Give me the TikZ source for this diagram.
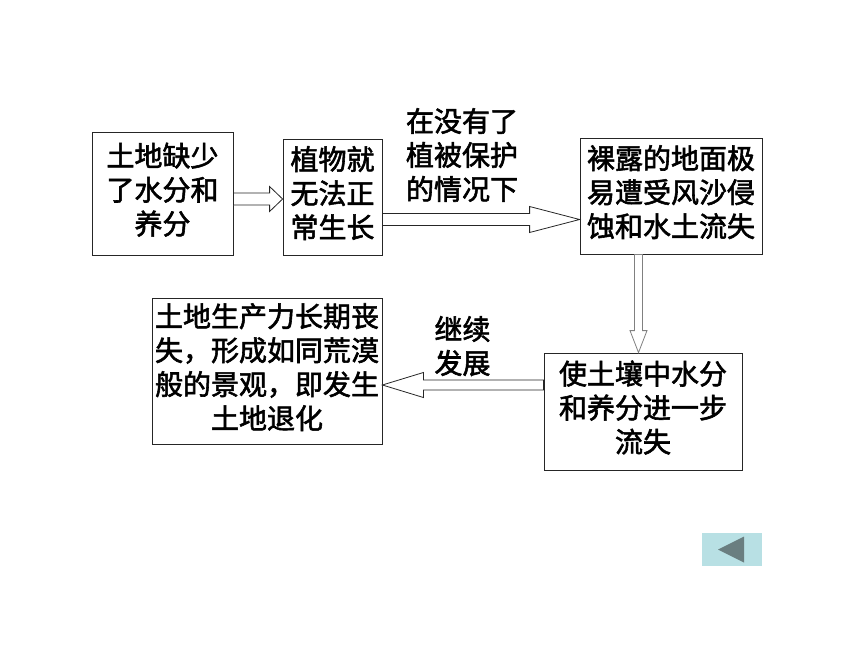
\documentclass[tikz,border=0pt]{standalone}
\usepackage{fontspec}
\setmainfont{Noto Sans CJK SC}[FakeBold=2]
\usetikzlibrary{calc}
\definecolor{btnfill}{HTML}{B8E0E4}
\definecolor{btnmark}{HTML}{6A7E80}
\newcommand{\lines}[2][2pt]{\raisebox{#1}{\begin{tabular}{@{}c@{}}#2\end{tabular}}}

\begin{document}
\begin{tikzpicture}[x=1pt,y=-1pt]

\tikzset{box/.style = {shape=rectangle,draw=black!85,line width=0.8pt,
  inner sep=0pt,font=\fontsize{28}{34}\selectfont}}
\tikzset{lbl/.style = {align=left,inner sep=0pt,font=\fontsize{28}{34}\selectfont}}
\tikzset{barrow/.style n args = {3}{draw=black!85,line width=0.8pt,fill=white,
  to path={let \p1=(\tikztostart), \p2=(\tikztotarget),
    \p3=($(\p2)!#3!(\p1)$) in
    ($(\p1)!#1!90:(\p2)$) -- ($(\p3)!#1!90:(\p2)$) -- ($(\p3)!#2!90:(\p2)$) -- (\p2)
    -- ($(\p3)!#2!-90:(\p2)$) -- ($(\p3)!#1!-90:(\p2)$) -- ($(\p1)!#1!-90:(\p2)$) -- cycle}}}

\useasboundingbox (0,0) rectangle (860,645);

\node[box,minimum width=141,minimum height=123] (lack) at (162.5,193.5) {\lines[9pt]{土地缺少\\了水分和\\养分}};
\node[box,minimum width=99,minimum height=116] (plant) at (332.5,197) {\lines{植物就\\无法正\\常生长}};
\node[box,minimum width=182,minimum height=116] (bare) at (671,196) {\lines{裸露的地面极\\易遭受风沙侵\\蚀和水土流失}};
\node[box,minimum width=198,minimum height=117] (loss) at (643,411.5) {\lines[3pt]{使土壤中水分\\和养分进一步\\流失}};
\node[box,minimum width=230,minimum height=146] (degr) at (267,371) {\lines{土地生产力长期丧\\失，形成如同荒漠\\般的景观，即发生\\土地退化}};

\node[lbl] (noveg) at (462,155) {在没有了\\植被保护\\的情况下};
\node[lbl] (cont) at (462.5,346) {继续\\发展};

%edges
\draw[barrow={6pt}{12.5pt}{13pt}] ([yshift=-5.5pt]lack.east) to ([yshift=-2pt]plant.west);
\draw[barrow={6pt}{13pt}{50pt}] ([yshift=-22.5pt]plant.east) to ([yshift=-23.5pt]bare.west);
\draw[barrow={4pt}{8.5pt}{22pt},draw=black!50] ([xshift=-32.5pt]bare.south) to ([xshift=-4.5pt]loss.north);
\draw[barrow={5pt}{12.5pt}{41pt}] ([yshift=26.5pt]loss.west) to ([yshift=-14pt]degr.east);

%back button
\node[fill=btnfill,minimum width=60,minimum height=33,inner sep=0pt] (back) at (732,549.5) {};
\fill[btnmark] ([xshift=-14pt]back.center) -- ([xshift=12pt,yshift=13pt]back.center)
  -- ([xshift=12pt,yshift=-13pt]back.center) -- cycle;
\end{tikzpicture}
\end{document}
